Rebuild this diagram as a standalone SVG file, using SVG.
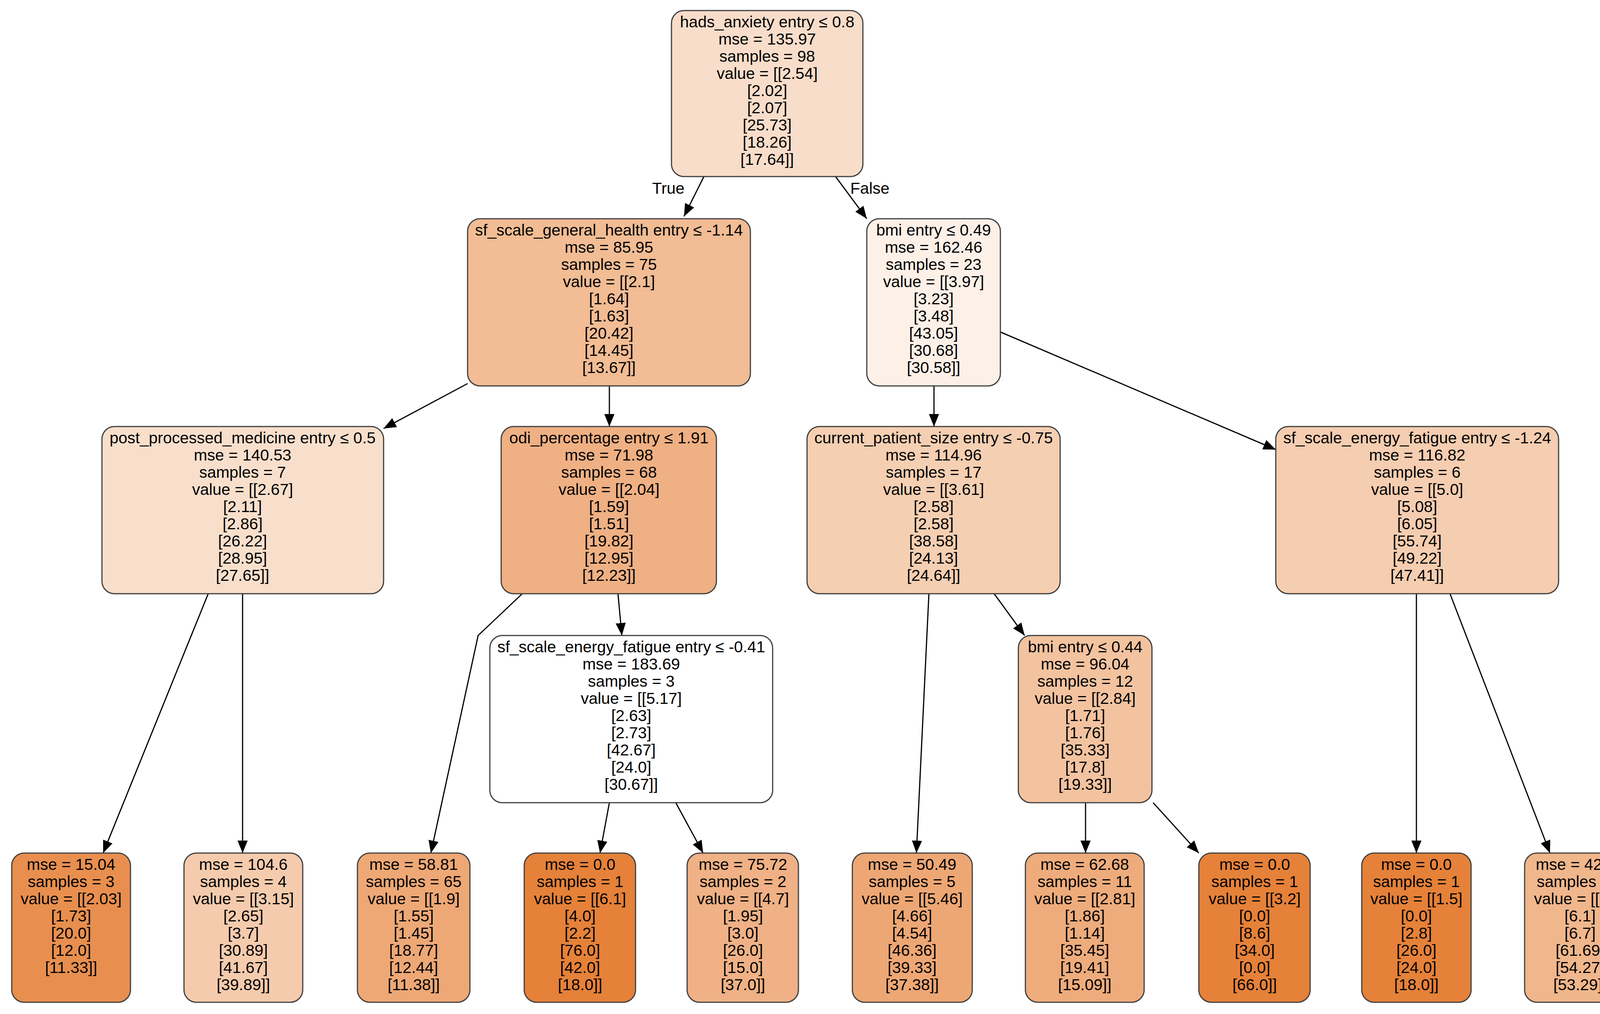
<svg xmlns="http://www.w3.org/2000/svg" width="4219" height="2596" viewBox="0 0 4219 2596">
<style>
rect{stroke:#404040;stroke-width:3}
text{font-family:"Liberation Sans",Arial,sans-serif;font-size:41px;fill:#000;text-anchor:middle}
.e{stroke:#000;stroke-width:3;fill:none;marker-end:url(#a)}
</style>
<defs><marker id="a" markerUnits="userSpaceOnUse" markerWidth="32" markerHeight="26" refX="32" refY="13" orient="auto"><path d="M0,0 L32,13 L0,26 z" fill="#000"/></marker></defs>
<rect width="4219" height="2596" fill="#fff" style="stroke:none"/>
<g id="connectors">
<path class="e" d="M1802,452 L1751,554"/>
<path class="e" d="M2139,452 L2219,560"/>
<path class="e" d="M1197,982 L982,1097"/>
<path class="e" d="M1560,987 L1560,1092"/>
<path class="e" d="M2391,987 L2391,1092"/>
<path class="e" d="M2561,850 L3266,1151"/>
<path class="e" d="M533,1520 L264,2184"/>
<path class="e" d="M621,1520 L621,2184"/>
<path class="e" d="M1337,1520 L1224,1627 L1103,2184"/>
<path class="e" d="M1582,1520 L1592,1627"/>
<path class="e" d="M2378,1520 L2346,2184"/>
<path class="e" d="M2545,1520 L2623,1627"/>
<path class="e" d="M3626,1520 L3626,2184"/>
<path class="e" d="M3712,1520 L3968,2184"/>
<path class="e" d="M1560,2055 L1536,2184"/>
<path class="e" d="M1730,2055 L1800,2184"/>
<path class="e" d="M2779,2055 L2779,2184"/>
<path class="e" d="M2952,2055 L3069,2184"/>
<text x="1711" y="496">True</text>
<text x="2227" y="496">False</text>
</g>
<g id="root"><rect x="1719" y="27" width="490" height="425" rx="32" fill="#f8ddca"/>
<text x="1964" y="70">hads_anxiety entry ≤ 0.8</text><text x="1964" y="114">mse = 135.97</text><text x="1964" y="158">samples = 98</text><text x="1964" y="202">value = [[2.54]</text><text x="1964" y="246">[2.02]</text><text x="1964" y="290">[2.07]</text><text x="1964" y="334">[25.73]</text><text x="1964" y="378">[18.26]</text><text x="1964" y="422">[17.64]]</text></g>
<g id="n1"><rect x="1197" y="560" width="724" height="428" rx="32" fill="#f2bc94"/>
<text x="1559" y="603">sf_scale_general_health entry ≤ -1.14</text><text x="1559" y="647">mse = 85.95</text><text x="1559" y="691">samples = 75</text><text x="1559" y="735">value = [[2.1]</text><text x="1559" y="779">[1.64]</text><text x="1559" y="823">[1.63]</text><text x="1559" y="867">[20.42]</text><text x="1559" y="911">[14.45]</text><text x="1559" y="955">[13.67]]</text></g>
<g id="n2"><rect x="2219" y="560" width="342" height="428" rx="32" fill="#fdf0e7"/>
<text x="2390" y="603">bmi entry ≤ 0.49</text><text x="2390" y="647">mse = 162.46</text><text x="2390" y="691">samples = 23</text><text x="2390" y="735">value = [[3.97]</text><text x="2390" y="779">[3.23]</text><text x="2390" y="823">[3.48]</text><text x="2390" y="867">[43.05]</text><text x="2390" y="911">[30.68]</text><text x="2390" y="955">[30.58]]</text></g>
<g id="n3"><rect x="261" y="1092" width="721" height="428" rx="32" fill="#f8dfcc"/>
<text x="621" y="1135">post_processed_medicine entry ≤ 0.5</text><text x="621" y="1179">mse = 140.53</text><text x="621" y="1223">samples = 7</text><text x="621" y="1267">value = [[2.67]</text><text x="621" y="1311">[2.11]</text><text x="621" y="1355">[2.86]</text><text x="621" y="1399">[26.22]</text><text x="621" y="1443">[28.95]</text><text x="621" y="1487">[27.65]]</text></g>
<g id="n4"><rect x="1283" y="1092" width="551" height="428" rx="32" fill="#efb083"/>
<text x="1559" y="1135">odi_percentage entry ≤ 1.91</text><text x="1559" y="1179">mse = 71.98</text><text x="1559" y="1223">samples = 68</text><text x="1559" y="1267">value = [[2.04]</text><text x="1559" y="1311">[1.59]</text><text x="1559" y="1355">[1.51]</text><text x="1559" y="1399">[19.82]</text><text x="1559" y="1443">[12.95]</text><text x="1559" y="1487">[12.23]]</text></g>
<g id="n5"><rect x="2066" y="1092" width="648" height="428" rx="32" fill="#f5cfb2"/>
<text x="2390" y="1135">current_patient_size entry ≤ -0.75</text><text x="2390" y="1179">mse = 114.96</text><text x="2390" y="1223">samples = 17</text><text x="2390" y="1267">value = [[3.61]</text><text x="2390" y="1311">[2.58]</text><text x="2390" y="1355">[2.58]</text><text x="2390" y="1399">[38.58]</text><text x="2390" y="1443">[24.13]</text><text x="2390" y="1487">[24.64]]</text></g>
<g id="n6"><rect x="3266" y="1092" width="724" height="428" rx="32" fill="#f5cdb0"/>
<text x="3628" y="1135">sf_scale_energy_fatigue entry ≤ -1.24</text><text x="3628" y="1179">mse = 116.82</text><text x="3628" y="1223">samples = 6</text><text x="3628" y="1267">value = [[5.0]</text><text x="3628" y="1311">[5.08]</text><text x="3628" y="1355">[6.05]</text><text x="3628" y="1399">[55.74]</text><text x="3628" y="1443">[49.22]</text><text x="3628" y="1487">[47.41]]</text></g>
<g id="n7"><rect x="1254" y="1627" width="724" height="428" rx="32" fill="#ffffff"/>
<text x="1616" y="1670">sf_scale_energy_fatigue entry ≤ -0.41</text><text x="1616" y="1714">mse = 183.69</text><text x="1616" y="1758">samples = 3</text><text x="1616" y="1802">value = [[5.17]</text><text x="1616" y="1846">[2.63]</text><text x="1616" y="1890">[2.73]</text><text x="1616" y="1934">[42.67]</text><text x="1616" y="1978">[24.0]</text><text x="1616" y="2022">[30.67]]</text></g>
<g id="n8"><rect x="2607" y="1627" width="342" height="428" rx="32" fill="#f3c3a0"/>
<text x="2778" y="1670">bmi entry ≤ 0.44</text><text x="2778" y="1714">mse = 96.04</text><text x="2778" y="1758">samples = 12</text><text x="2778" y="1802">value = [[2.84]</text><text x="2778" y="1846">[1.71]</text><text x="2778" y="1890">[1.76]</text><text x="2778" y="1934">[35.33]</text><text x="2778" y="1978">[17.8]</text><text x="2778" y="2022">[19.33]]</text></g>
<g id="l1"><rect x="30" y="2184" width="304" height="382" rx="32" fill="#e88f4f"/>
<text x="182" y="2227">mse = 15.04</text><text x="182" y="2271">samples = 3</text><text x="182" y="2315">value = [[2.03]</text><text x="182" y="2359">[1.73]</text><text x="182" y="2403">[20.0]</text><text x="182" y="2447">[12.0]</text><text x="182" y="2491">[11.33]]</text></g>
<g id="l2"><rect x="471" y="2184" width="304" height="382" rx="32" fill="#f5cbad"/>
<text x="623" y="2227">mse = 104.6</text><text x="623" y="2271">samples = 4</text><text x="623" y="2315">value = [[3.15]</text><text x="623" y="2359">[2.65]</text><text x="623" y="2403">[3.7]</text><text x="623" y="2447">[30.89]</text><text x="623" y="2491">[41.67]</text><text x="623" y="2535">[39.89]]</text></g>
<g id="l3"><rect x="915" y="2184" width="288" height="382" rx="32" fill="#eda876"/>
<text x="1059" y="2227">mse = 58.81</text><text x="1059" y="2271">samples = 65</text><text x="1059" y="2315">value = [[1.9]</text><text x="1059" y="2359">[1.55]</text><text x="1059" y="2403">[1.45]</text><text x="1059" y="2447">[18.77]</text><text x="1059" y="2491">[12.44]</text><text x="1059" y="2535">[11.38]]</text></g>
<g id="l4"><rect x="1342" y="2184" width="285" height="382" rx="32" fill="#e58139"/>
<text x="1485" y="2227">mse = 0.0</text><text x="1485" y="2271">samples = 1</text><text x="1485" y="2315">value = [[6.1]</text><text x="1485" y="2359">[4.0]</text><text x="1485" y="2403">[2.2]</text><text x="1485" y="2447">[76.0]</text><text x="1485" y="2491">[42.0]</text><text x="1485" y="2535">[18.0]]</text></g>
<g id="l5"><rect x="1759" y="2184" width="285" height="382" rx="32" fill="#efb185"/>
<text x="1902" y="2227">mse = 75.72</text><text x="1902" y="2271">samples = 2</text><text x="1902" y="2315">value = [[4.7]</text><text x="1902" y="2359">[1.95]</text><text x="1902" y="2403">[3.0]</text><text x="1902" y="2447">[26.0]</text><text x="1902" y="2491">[15.0]</text><text x="1902" y="2535">[37.0]]</text></g>
<g id="l6"><rect x="2182" y="2184" width="307" height="382" rx="32" fill="#eda775"/>
<text x="2335" y="2227">mse = 50.49</text><text x="2335" y="2271">samples = 5</text><text x="2335" y="2315">value = [[5.46]</text><text x="2335" y="2359">[4.66]</text><text x="2335" y="2403">[4.54]</text><text x="2335" y="2447">[46.36]</text><text x="2335" y="2491">[39.33]</text><text x="2335" y="2535">[37.38]]</text></g>
<g id="l7"><rect x="2625" y="2184" width="304" height="382" rx="32" fill="#eeac7c"/>
<text x="2777" y="2227">mse = 62.68</text><text x="2777" y="2271">samples = 11</text><text x="2777" y="2315">value = [[2.81]</text><text x="2777" y="2359">[1.86]</text><text x="2777" y="2403">[1.14]</text><text x="2777" y="2447">[35.45]</text><text x="2777" y="2491">[19.41]</text><text x="2777" y="2535">[15.09]]</text></g>
<g id="l8"><rect x="3069" y="2184" width="285" height="382" rx="32" fill="#e58139"/>
<text x="3212" y="2227">mse = 0.0</text><text x="3212" y="2271">samples = 1</text><text x="3212" y="2315">value = [[3.2]</text><text x="3212" y="2359">[0.0]</text><text x="3212" y="2403">[8.6]</text><text x="3212" y="2447">[34.0]</text><text x="3212" y="2491">[0.0]</text><text x="3212" y="2535">[66.0]]</text></g>
<g id="l9"><rect x="3486" y="2184" width="280" height="382" rx="32" fill="#e58139"/>
<text x="3626" y="2227">mse = 0.0</text><text x="3626" y="2271">samples = 1</text><text x="3626" y="2315">value = [[1.5]</text><text x="3626" y="2359">[0.0]</text><text x="3626" y="2403">[2.8]</text><text x="3626" y="2447">[26.0]</text><text x="3626" y="2491">[24.0]</text><text x="3626" y="2535">[18.0]]</text></g>
<g id="l10"><rect x="3903" y="2184" width="283" height="382" rx="32" fill="#f0b68c"/>
<text x="4045" y="2227">mse = 42.82</text><text x="4045" y="2271">samples = 5</text><text x="4045" y="2315">value = [[5.7]</text><text x="4045" y="2359">[6.1]</text><text x="4045" y="2403">[6.7]</text><text x="4045" y="2447">[61.69]</text><text x="4045" y="2491">[54.27]</text><text x="4045" y="2535">[53.29]]</text></g>
</svg>
